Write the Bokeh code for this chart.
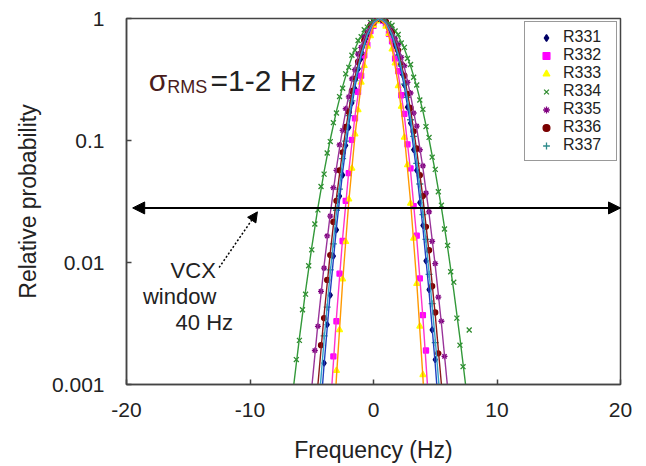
import numpy as np
from bokeh.plotting import figure
from bokeh.models import (Legend, LegendItem, Arrow, NormalHead, FixedTicker,
                          Label, Range1d)
from bokeh.embed import file_html
from bokeh.resources import INLINE

# ---------------- data ----------------
names = ["R331", "R332", "R333", "R334", "R335", "R336", "R337"]

# measured frequency bins (Hz), shared by all runs
freq = [-6.5, -6.25, -6.0, -5.75, -5.5, -5.25, -5.0, -4.75, -4.5, -4.25,
        -4.0, -3.75, -3.5, -3.25, -3.0, -2.75, -2.5, -2.25, -2.0, -1.75,
        -1.5, -1.25, -1.0, -0.75, -0.5, -0.25, 0.0, 0.25, 0.5, 0.75,
        1.0, 1.25, 1.5, 1.75, 2.0, 2.25, 2.5, 2.75, 3.0, 3.25,
        3.5, 3.75, 4.0, 4.25, 4.5, 4.75, 5.0, 5.25, 5.5, 5.75,
        6.0, 6.25, 6.5, 6.75, 7.0, 7.25, 7.5, 7.75]

r331 = ([None] * 10 +
        [0.0015, 0.0031, 0.0054, 0.0113, 0.0185, 0.035, 0.052, 0.091, 0.128,
         0.203, 0.265, 0.385, 0.47, 0.62, 0.71, 0.85, 0.91, 0.99] + [1.0] +
        [0.97, 0.93, 0.82, 0.74, 0.59, 0.50, 0.36, 0.285, 0.188, 0.139, 0.084,
         0.057, 0.031, 0.0201, 0.0103, 0.0060, 0.0028, 0.0016] + [None] * 11)
r332 = ([None] * 13 +
        [0.0017, 0.0033, 0.0081, 0.0150, 0.032, 0.054, 0.101, 0.152, 0.25,
         0.34, 0.50, 0.61, 0.79, 0.87, 0.98] + [1.0] +
        [0.96, 0.90, 0.75, 0.65, 0.47, 0.37, 0.235, 0.165, 0.093, 0.059,
         0.029, 0.0166, 0.0074, 0.0037, 0.0019] + [None] * 14)
r333 = ([None] * 14 +
        [0.0013, 0.0028, 0.0073, 0.0148, 0.033, 0.059, 0.113, 0.178, 0.30,
         0.41, 0.59, 0.72, 0.88, 0.95] + [1.0] +
        [0.98, 0.86, 0.75, 0.56, 0.43, 0.28, 0.19, 0.106, 0.063, 0.0305,
         0.0158, 0.0067, 0.0030, 0.0012] + [None] * 15)
r334 = ([None] +
        [0.0016, 0.0023, 0.0041, 0.0055, 0.0094, 0.0127, 0.0207, 0.027, 0.042,
         0.053, 0.079, 0.098, 0.140, 0.168, 0.229, 0.268, 0.352, 0.398, 0.50,
         0.55, 0.66, 0.71, 0.81, 0.85, 0.93, 0.95, 0.99] + [1.0] +
        [0.98, 0.97, 0.91, 0.88, 0.79, 0.74, 0.63, 0.58, 0.47, 0.42, 0.33,
         0.285, 0.215, 0.18, 0.13, 0.106, 0.073, 0.058, 0.038, 0.0295, 0.0188,
         0.0138, 0.0084, 0.0069, 0.0035, 0.0021, 0.0014] + [None, 0.0028])
r335 = ([None] * 7 +
        [0.0019, 0.0030, 0.0058, 0.0090, 0.0165, 0.024, 0.041, 0.057, 0.092,
         0.121, 0.182, 0.228, 0.32, 0.38, 0.51, 0.58, 0.71, 0.78, 0.89, 0.93,
         0.99] + [1.0] +
        [0.97, 0.95, 0.86, 0.81, 0.68, 0.61, 0.48, 0.41, 0.30, 0.245, 0.168,
         0.131, 0.084, 0.062, 0.037, 0.026, 0.0149, 0.0098, 0.0052, 0.0033,
         0.0017] + [None] * 8)
r336 = ([None] * 9 +
        [0.0021, 0.0035, 0.0072, 0.0115, 0.0215, 0.032, 0.057, 0.080, 0.129,
         0.171, 0.255, 0.32, 0.44, 0.52, 0.66, 0.74, 0.87, 0.92, 0.99] + [1.0] +
        [0.97, 0.94, 0.84, 0.77, 0.63, 0.55, 0.42, 0.34, 0.24, 0.185, 0.119,
         0.086, 0.052, 0.035, 0.0196, 0.0126, 0.0064, 0.0039, 0.0018] +
        [None] * 10)
r337 = ([None] * 10 +
        [0.0025, 0.0043, 0.0087, 0.0142, 0.0268, 0.040, 0.071, 0.099, 0.160,
         0.211, 0.31, 0.39, 0.52, 0.61, 0.75, 0.83, 0.94, 0.97] + [1.0] +
        [0.99, 0.92, 0.85, 0.73, 0.64, 0.50, 0.41, 0.29, 0.226, 0.148, 0.108,
         0.065, 0.044, 0.0247, 0.0155, 0.0080, 0.0046, 0.0022] + [None] * 11)

# fitted curves, read at 0.5 Hz steps
fit_freq = [-6.5, -6.0, -5.5, -5.0, -4.5, -4.0, -3.5, -3.0, -2.5, -2.0,
            -1.5, -1.0, -0.5, 0.0, 0.5, 1.0, 1.5, 2.0, 2.5, 3.0,
            3.5, 4.0, 4.5, 5.0, 5.5, 6.0, 6.5, 7.0, 7.5]
fit331 = ([None] * 4 +
          [0.000316, 0.00146, 0.00575, 0.01928, 0.0550, 0.1334, 0.2754, 0.484,
           0.724, 0.923, 1.0, 0.923, 0.724, 0.484, 0.2754, 0.1334, 0.0550,
           0.01928, 0.00575, 0.00146, 0.000316] + [None] * 4)
fit332 = ([None] * 6 +
          [0.00063, 0.00355, 0.01585, 0.0562, 0.1585, 0.355, 0.631, 0.891, 1.0,
           0.891, 0.631, 0.355, 0.1585, 0.0562, 0.01585, 0.00355, 0.00063] +
          [None] * 6)
fit333 = ([None] * 6 +
          [0.000145, 0.00115, 0.00692, 0.0316, 0.1096, 0.288, 0.575, 0.871,
           1.0, 0.871, 0.575, 0.288, 0.1096, 0.0316, 0.00692, 0.00115,
           0.000145] + [None] * 6)
fit334 = [0.000916, 0.00240, 0.00586, 0.01332, 0.0282, 0.0555, 0.1019, 0.174,
          0.2767, 0.410, 0.565, 0.725, 0.867, 0.965, 1.0, 0.965, 0.867, 0.725,
          0.565, 0.410, 0.2767, 0.174, 0.1019, 0.0555, 0.0282, 0.01332,
          0.00586, 0.00240, 0.000916]
fit335 = ([None] * 3 +
          [0.000944, 0.00316, 0.00944, 0.0251, 0.0596, 0.1259, 0.237, 0.398,
           0.596, 0.794, 0.944, 1.0, 0.944, 0.794, 0.596, 0.398, 0.237, 0.1259,
           0.0596, 0.0251, 0.00944, 0.00316, 0.000944] + [None] * 3)
fit336 = ([None] * 3 +
          [0.000234, 0.001, 0.00372, 0.0120, 0.0339, 0.0832, 0.178, 0.331,
           0.537, 0.759, 0.933, 1.0, 0.933, 0.759, 0.537, 0.331, 0.178, 0.0832,
           0.0339, 0.0120, 0.00372, 0.001, 0.000234] + [None] * 3)
fit337 = ([None] * 4 +
          [0.00056, 0.00233, 0.00832, 0.0256, 0.0676, 0.154, 0.302, 0.510,
           0.741, 0.928, 1.0, 0.928, 0.741, 0.510, 0.302, 0.154, 0.0676, 0.0256,
           0.00832, 0.00233, 0.00056] + [None] * 4)

points = [r331, r332, r333, r334, r335, r336, r337]
fits = [fit331, fit332, fit333, fit334, fit335, fit336, fit337]

x_ticks = [-20, -10, 0, 10, 20]
x_tick_labels = ["-20", "-10", "0", "10", "20"]
y_ticks = [0.001, 0.01, 0.1, 1]
y_tick_labels = ["0.001", "0.01", "0.1", "1"]

# VCX window (40 Hz) marker and note
window_lo, window_hi, window_level = -19.5, 20.0, 0.028

# ---------------- styles ----------------
marker_colors = ["#000066", "#FF00FF", "#FFFF00", "#2E8B2E", "#800080",
                 "#7A0000", "#2E8B8B"]
line_colors = ["#2040C0", "#FF33CC", "#FF9900", "#33993A", "#993399",
               "#8B1A1A", "#33A1C9"]
markers = ["diamond", "square", "triangle", "x", "asterisk", "circle", "cross"]
sizes = [6, 5, 6, 7, 6, 5, 7]
FONT = "Liberation Sans"
TXT = "#222222"
AX = "#444444"

p = figure(width=637, height=466, x_range=Range1d(-20, 20),
           y_range=Range1d(0.001, 1), y_axis_type="log",
           output_backend="svg", toolbar_location=None,
           min_border_left=126, min_border_right=17, min_border_top=18,
           min_border_bottom=82, background_fill_color="white",
           border_fill_color="white")
p.xgrid.visible = False
p.ygrid.visible = False
p.outline_line_color = AX
p.outline_line_width = 1.5

p.xaxis.ticker = FixedTicker(ticks=x_ticks)
p.xaxis.major_label_overrides = {t: s for t, s in zip(x_ticks, x_tick_labels)}
p.yaxis.ticker = FixedTicker(ticks=y_ticks)
p.yaxis.major_label_overrides = {t: s for t, s in zip(y_ticks, y_tick_labels)}
for ax in (p.xaxis, p.yaxis):
    ax.minor_tick_line_color = None
    ax.major_tick_in = 5
    ax.major_tick_out = 0
    ax.axis_line_color = AX
    ax.axis_line_width = 1.5
    ax.major_tick_line_color = AX
    ax.major_tick_line_width = 1.5
    ax.major_label_text_font = FONT
    ax.major_label_text_font_size = "21px"
    ax.major_label_text_color = TXT
    ax.axis_label_text_font = FONT
    ax.axis_label_text_font_size = "23px"
    ax.axis_label_text_font_style = "normal"
    ax.axis_label_text_color = TXT
p.xaxis.major_label_standoff = 18
p.xaxis.axis_label_standoff = 17
p.yaxis.major_label_standoff = 22
p.yaxis.axis_label_standoff = 8
p.xaxis.axis_label = "Frequency (Hz)"
p.yaxis.axis_label = "Relative probability"

fx = np.array(freq, dtype=float)
ffx = np.array(fit_freq, dtype=float)
items = []
for name, pts, col, mk, sz in zip(names, points, marker_colors, markers, sizes):
    r = p.scatter(fx, np.array(pts, dtype=float), marker=mk, size=sz,
                  fill_color=col, line_color=col, line_width=1.3)
    items.append(LegendItem(label=name, renderers=[r]))
for fit, lc in zip(fits, line_colors):
    p.line(ffx, np.array(fit, dtype=float), line_color=lc, line_width=1.4)

legend = Legend(items=items, location="top_right", margin=3, padding=6,
                spacing=0, label_height=17, glyph_height=17, glyph_width=30,
                label_standoff=2, label_width=47, label_text_font=FONT,
                label_text_font_size="16px", label_text_color=TXT,
                border_line_color="#333333", border_line_width=1.5,
                background_fill_color="white", background_fill_alpha=1.0)
p.add_layout(legend)

# double arrow showing the 40 Hz VCX window
p.add_layout(Arrow(start=NormalHead(size=12, fill_color="black", line_color="black"),
                   end=NormalHead(size=12, fill_color="black", line_color="black"),
                   x_start=window_lo, y_start=window_level,
                   x_end=window_hi, y_end=window_level,
                   line_color="black", line_width=2))
# dotted pointer from the note to the window line
p.add_layout(Arrow(end=NormalHead(size=10, fill_color="black", line_color="black"),
                   x_start=-12.5, y_start=0.0091, x_end=-9.4, y_end=0.026,
                   line_color="black", line_width=1.5, line_dash="2 2"))

for txt, xx, yy in [("VCX", -14.6, 0.0086), ("window", -15.7, 0.0053),
                    ("40 Hz", -13.7, 0.0032)]:
    p.add_layout(Label(x=xx, y=yy, text=txt, text_font=FONT,
                       text_font_size="22px", text_color=TXT,
                       text_align="center", text_baseline="middle"))

# sigma_RMS annotation
p.add_layout(Label(x=-18.2, y=0.31, text="σ", text_font=FONT,
                   text_font_size="30px", text_color="#4a1c1c",
                   text_align="left", text_baseline="alphabetic"))
p.add_layout(Label(x=-16.7, y=0.275, text="RMS", text_font=FONT,
                   text_font_size="18px", text_color="#4a1c1c",
                   text_align="left", text_baseline="alphabetic"))
p.add_layout(Label(x=-13.2, y=0.31, text="=1-2 Hz", text_font=FONT,
                   text_font_size="30px", text_color=TXT,
                   text_align="left", text_baseline="alphabetic"))

open("out.html", "w").write(file_html(p, INLINE))
